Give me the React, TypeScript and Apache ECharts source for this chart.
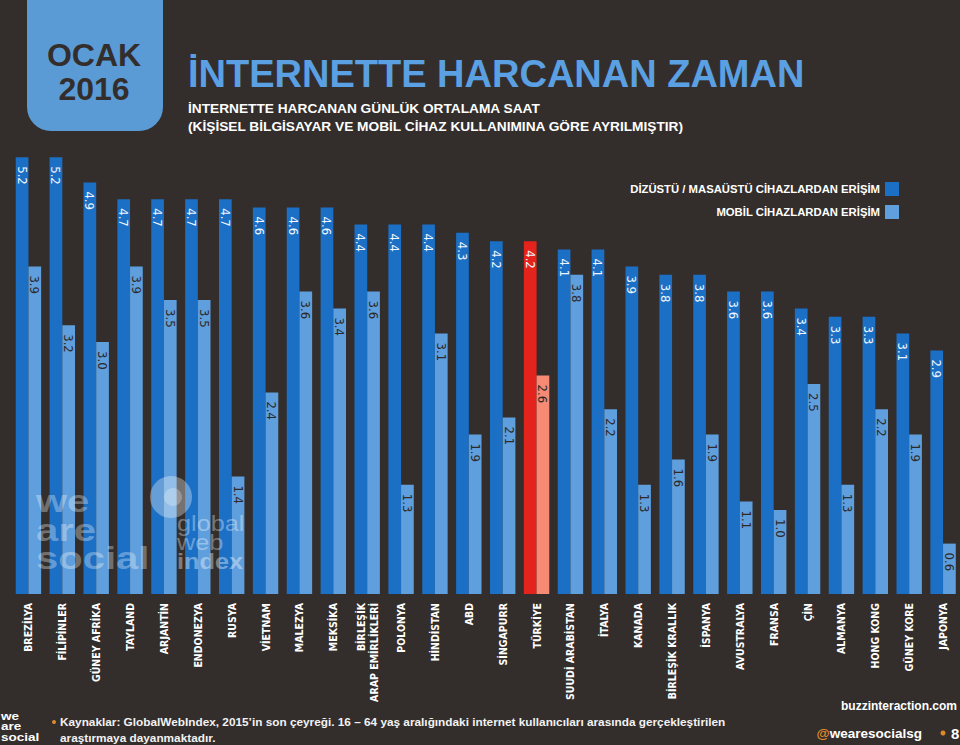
import React, { useEffect, useRef } from "react";
import * as echarts from "echarts";

const categories = [
  "BREZİLYA", "FİLİPİNLER", "GÜNEY AFRİKA", "TAYLAND", "ARJANTİN", "ENDONEZYA", "RUSYA",
  "VİETNAM", "MALEZYA", "MEKSİKA", "BİRLEŞİK\nARAP EMİRLİKLERİ", "POLONYA", "HİNDİSTAN", "ABD",
  "SİNGAPURR", "TÜRKİYE", "SUUDİ ARABİSTAN", "İTALYA", "KANADA", "BİRLEŞİK KRALLIK", "İSPANYA",
  "AVUSTRALYA", "FRANSA", "ÇİN", "ALMANYA", "HONG KONG", "GÜNEY KORE", "JAPONYA",
];
const desktopValues = [5.2, 5.2, 4.9, 4.7, 4.7, 4.7, 4.7, 4.6, 4.6, 4.6, 4.4, 4.4, 4.4, 4.3, 4.2, 4.2, 4.1, 4.1, 3.9, 3.8, 3.8, 3.6, 3.6, 3.4, 3.3, 3.3, 3.1, 2.9];
const mobileValues = [3.9, 3.2, 3.0, 3.9, 3.5, 3.5, 1.4, 2.4, 3.6, 3.4, 3.6, 1.3, 3.1, 1.9, 2.1, 2.6, 3.8, 2.2, 1.3, 1.6, 1.9, 1.1, 1.0, 2.5, 1.3, 2.2, 1.9, 0.6];
const highlightCategory = "TÜRKİYE";
const seriesNames = ["DİZÜSTÜ / MASAÜSTÜ CİHAZLARDAN ERİŞİM", "MOBİL CİHAZLARDAN ERİŞİM"];

const BG = "#332e2c";
const DARK = "#1b6fc4";
const LIGHT = "#5f9fdd";
const RED = "#e4231c";
const SALMON = "#f58b74";
const NARROW = "'Liberation Sans Narrow', 'DejaVu Sans Condensed', 'Liberation Sans', sans-serif";
const SANS = "'Liberation Sans', Arial, sans-serif";

export default function App() {
  const ref = useRef<HTMLDivElement>(null);
  useEffect(() => {
    if (!ref.current) return;
    const chart = echarts.init(ref.current, null, { renderer: "svg" });
    const mkLabel = (color: string) => ({
      show: true,
      position: "insideTop",
      distance: 9,
      rotate: -90,
      align: "left",
      verticalAlign: "middle",
      color,
      fontFamily: NARROW,
      fontSize: 13,
      formatter: (p: any) => Number(p.value).toFixed(1),
    });
    const wm = "rgba(255,255,255,0.32)";
    const wmText = (text: string, x: number, y: number, size: number, sx: number, lh: number, bold: boolean, fill: string, z = 100) => ({
      type: "text", z, x, y, scaleX: sx,
      style: { text, fill, font: `${bold ? "bold " : ""}${size}px ${SANS}`, lineHeight: lh, align: "left", verticalAlign: "middle" },
    });
    const option: any = {
      animation: false,
      backgroundColor: BG,
      grid: { left: 11.5, width: 950, top: 132, bottom: 151, containLabel: false },
      legend: {
        orient: "vertical",
        right: 56,
        top: 177,
        align: "right",
        itemWidth: 14,
        itemHeight: 14,
        itemGap: 9,
        icon: "rect",
        data: seriesNames,
        textStyle: { color: "#ffffff", fontWeight: "bold", fontSize: 11.3, fontFamily: SANS },
        selectedMode: false,
      },
      xAxis: {
        type: "category",
        data: categories,
        axisLine: { show: false },
        axisTick: { show: false },
        axisLabel: {
          interval: 0,
          rotate: 90,
          margin: 9,
          color: "#ffffff",
          fontWeight: "bold",
          fontSize: 10.5,
          lineHeight: 13,
          fontFamily: NARROW,
        },
      },
      yAxis: { type: "value", min: 0, max: 5.5, show: false, splitLine: { show: false } },
      series: [
        {
          name: seriesNames[0],
          type: "bar",
          barWidth: 12.7,
          barGap: "0%",
          itemStyle: { color: DARK },
          label: mkLabel("#eef4ff"),
          data: desktopValues.map((v, i) =>
            categories[i] === highlightCategory ? { value: v, itemStyle: { color: RED } } : v
          ),
        },
        {
          name: seriesNames[1],
          type: "bar",
          barWidth: 12.7,
          barGap: "0%",
          itemStyle: { color: LIGHT },
          label: mkLabel("#2e2a29"),
          data: mobileValues.map((v, i) =>
            categories[i] === highlightCategory ? { value: v, itemStyle: { color: SALMON } } : v
          ),
        },
      ],
      graphic: [
        { type: "rect", shape: { x: 27, y: -20, width: 136, height: 151, r: [0, 0, 24, 24] }, style: { fill: "#5b9bd5" } },
        { type: "text", x: 94, y: 55, style: { text: "OCAK", fill: BG, font: `bold 32px ${SANS}`, align: "center", verticalAlign: "middle" } },
        { type: "text", x: 94, y: 89, style: { text: "2016", fill: BG, font: `bold 32px ${SANS}`, align: "center", verticalAlign: "middle" } },
        { type: "text", x: 188, y: 74, style: { text: "İNTERNETTE HARCANAN ZAMAN", fill: "#5aa0e2", font: `bold 38px ${SANS}`, align: "left", verticalAlign: "middle" } },
        { type: "text", x: 188, y: 108, style: { text: "İNTERNETTE HARCANAN GÜNLÜK ORTALAMA SAAT", fill: "#ffffff", font: `bold 13.7px ${SANS}`, align: "left", verticalAlign: "middle" } },
        { type: "text", x: 188, y: 126, style: { text: "(KİŞİSEL BİLGİSAYAR VE MOBİL CİHAZ KULLANIMINA GÖRE AYRILMIŞTIR)", fill: "#ffffff", font: `bold 13.7px ${SANS}`, align: "left", verticalAlign: "middle" } },
        // watermark logos
        wmText("we", 36, 501, 32, 1.25, 28, true, wm),
        wmText("are", 36, 530, 32, 1.25, 28, true, wm),
        wmText("social", 36, 558, 32, 1.25, 28, true, wm),
        { type: "circle", z: 100, shape: { cx: 171, cy: 497, r: 21 }, style: { fill: "rgba(255,255,255,0.33)" } },
        { type: "circle", z: 101, shape: { cx: 173, cy: 497, r: 9 }, style: { fill: "rgba(255,255,255,0.25)" } },
        wmText("global", 177, 524, 22, 1.15, 20, false, "rgba(255,255,255,0.35)"),
        wmText("web", 177, 543, 22, 1.15, 20, false, "rgba(255,255,255,0.35)"),
        wmText("index", 177, 562, 22, 1.15, 20, true, "rgba(255,255,255,0.4)"),
        // footer logo
        wmText("we", 1, 716.5, 10, 1.35, 10.5, true, "#ffffff", 0),
        wmText("are", 1, 727, 10, 1.35, 10.5, true, "#ffffff", 0),
        wmText("social", 1, 737.5, 10, 1.35, 10.5, true, "#ffffff", 0),
        { type: "circle", shape: { cx: 54, cy: 722, r: 2 }, style: { fill: "#d98b2b" } },
        { type: "text", x: 60, y: 722, style: { text: "Kaynaklar: GlobalWebIndex, 2015’in son çeyreği. 16 – 64 yaş aralığındaki internet kullanıcıları arasında gerçekleştirilen", fill: "#f2f2f2", font: `bold 11.8px ${SANS}`, align: "left", verticalAlign: "middle" } },
        { type: "text", x: 60, y: 738, style: { text: "araştırmaya dayanmaktadır.", fill: "#f2f2f2", font: `bold 11.8px ${SANS}`, align: "left", verticalAlign: "middle" } },
        { type: "text", x: 957, y: 706, style: { text: "buzzinteraction.com", fill: "#ffffff", font: `bold 12px ${SANS}`, align: "right", verticalAlign: "middle" } },
        {
          type: "text", x: 922, y: 733,
          style: {
            text: "{a|@}{b|wearesocialsg}", align: "right", verticalAlign: "middle",
            rich: {
              a: { fill: "#e08a2a", font: `bold 13.5px ${SANS}` },
              b: { fill: "#ffffff", font: `bold 13.5px ${SANS}` },
            },
          },
        },
        { type: "circle", shape: { cx: 943, cy: 733, r: 2.5 }, style: { fill: "#e08a2a" } },
        { type: "text", x: 951, y: 733, style: { text: "8", fill: "#ffffff", font: `bold 15px ${SANS}`, align: "left", verticalAlign: "middle" } },
      ],
    };
    chart.setOption(option);
    return () => chart.dispose();
  }, []);
  return <div ref={ref} style={{ position: "absolute", left: 0, top: 0, width: 960, height: 745 }} />;
}
